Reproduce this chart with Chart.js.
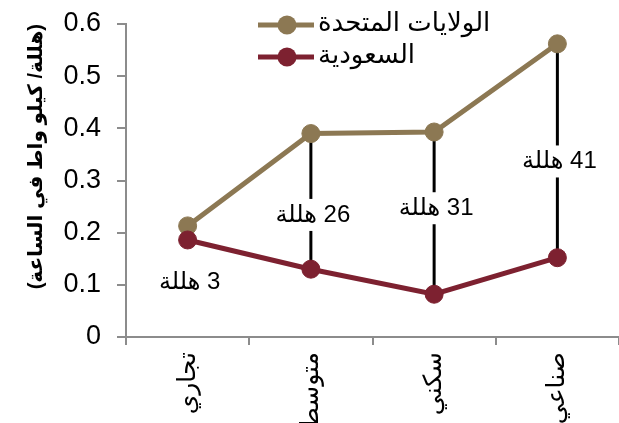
<!DOCTYPE html>
<html lang="ar">
<head>
<meta charset="utf-8">
<script src="https://cdn.jsdelivr.net/npm/chart.js@4.4.0/dist/chart.umd.min.js"></script>
<style>
  body { margin: 0; background: #fff; }
  #wrap { width: 619px; height: 423px; }
  canvas { direction: rtl; }
</style>
</head>
<body>
<div id="wrap"><canvas id="tariffChart"></canvas></div>
<script>
// tariff per sector, riyal per kWh
var sectors = ['تجاري', 'متوسط', 'سكني', 'صناعي'];
var usPrices = [0.213, 0.39, 0.393, 0.562];
var saudiPrices = [0.186, 0.13, 0.082, 0.152];
var yTicks = [0, 0.1, 0.2, 0.3, 0.4, 0.5, 0.6];
var usName = 'الولايات المتحدة';
var saudiName = 'السعودية';
var unitWord = 'هللة';
var yTitle = '(هللة/ كيلو واط في الساعة)';

var usColor = '#8c7853';
var saudiColor = '#7d2130';
var axisColor = '#8c8c8c';
var fontFamily = "'Liberation Sans', 'DejaVu Sans', Arial, sans-serif";

// black connector between the two points with the gap in halala
var gapLines = {
  id: 'gapLines',
  beforeDatasetsDraw(chart) {
    var ctx = chart.ctx;
    var us = chart.getDatasetMeta(0).data;
    var sa = chart.getDatasetMeta(1).data;
    ctx.save();
    ctx.strokeStyle = '#000';
    ctx.lineWidth = 3;
    for (var i = 0; i < sectors.length; i++) {
      if (usPrices[i] - saudiPrices[i] < 0.05) continue;
      ctx.beginPath();
      ctx.moveTo(us[i].x, us[i].y);
      ctx.lineTo(sa[i].x, sa[i].y);
      ctx.stroke();
    }
    ctx.restore();
  },
  afterDatasetsDraw(chart, args, opts) {
    var ctx = chart.ctx;
    var us = chart.getDatasetMeta(0).data;
    var sa = chart.getDatasetMeta(1).data;
    ctx.save();
    ctx.font = '24px ' + fontFamily;
    ctx.textAlign = 'center';
    ctx.textBaseline = 'middle';
    for (var i = 0; i < sectors.length; i++) {
      var diff = Math.round((usPrices[i] - saudiPrices[i]) * 100);
      var text = diff + ' ' + unitWord;
      var x = sa[i].x, y;
      if (usPrices[i] - saudiPrices[i] < 0.05) {
        y = sa[i].y + 42;
      } else {
        y = us[i].y + (sa[i].y - us[i].y) * opts.at[i];
        var w = ctx.measureText(text).width + 4;
        ctx.fillStyle = '#fff';
        ctx.fillRect(x - w / 2, y - 16, w, 32);
      }
      ctx.fillStyle = '#000';
      ctx.fillText(text, x + 2, y);
    }
    ctx.restore();
  }
};

// legend sits inside the plot, marker on the left of the name
var innerLegend = {
  id: 'innerLegend',
  afterDraw(chart) {
    var ctx = chart.ctx;
    var rows = [[usName, usColor, 25], [saudiName, saudiColor, 57]];
    ctx.save();
    ctx.font = '26px ' + fontFamily;
    ctx.textAlign = 'left';
    ctx.textBaseline = 'middle';
    rows.forEach(function (r) {
      ctx.strokeStyle = r[1];
      ctx.lineWidth = 5;
      ctx.beginPath();
      ctx.moveTo(258, r[2]);
      ctx.lineTo(314, r[2]);
      ctx.stroke();
      ctx.fillStyle = r[1];
      ctx.beginPath();
      ctx.arc(287, r[2], 9.5, 0, Math.PI * 2);
      ctx.fill();
      ctx.fillStyle = '#000';
      ctx.fillText(r[0], 318, r[2] - 1);
    });
    ctx.restore();
  }
};

new Chart(document.getElementById('tariffChart'), {
  type: 'line',
  data: {
    labels: sectors,
    datasets: [
      {
        label: usName,
        data: usPrices,
        borderColor: usColor,
        backgroundColor: usColor,
        borderWidth: 5,
        pointRadius: 9,
        pointBorderWidth: 1,
        pointHoverRadius: 9,
        order: 1
      },
      {
        label: saudiName,
        data: saudiPrices,
        borderColor: saudiColor,
        backgroundColor: saudiColor,
        borderWidth: 5,
        pointRadius: 9,
        pointBorderWidth: 1,
        pointHoverRadius: 9,
        order: 0
      }
    ]
  },
  options: {
    responsive: true,
    maintainAspectRatio: false,
    animation: false,
    layout: { autoPadding: false, padding: { top: 24, right: 0, bottom: 0, left: 0 } },
    plugins: {
      legend: { display: false },
      tooltip: { enabled: false },
      gapLines: { at: [0, 0.6, 0.47, 0.55] }
    },
    scales: {
      x: {
        offset: true,
        grid: { offset: true, drawOnChartArea: false, color: axisColor, lineWidth: 2, tickLength: 8 },
        border: { color: axisColor, width: 2 },
        ticks: {
          color: '#000',
          font: { family: fontFamily, size: 25 },
          minRotation: 90,
          maxRotation: 90,
          padding: 7
        },
        afterFit(scale) {
          scale.height = 86;
          scale.paddingLeft = 0;
          scale.paddingRight = 0;
        }
      },
      y: {
        min: 0,
        max: 0.6,
        afterBuildTicks(scale) { scale.ticks = yTicks.map(function (v) { return { value: v }; }); },
        grid: { drawOnChartArea: false, color: axisColor, lineWidth: 2, tickLength: 9 },
        border: { color: axisColor, width: 2 },
        ticks: {
          color: '#000',
          font: { family: fontFamily, size: 27 },
          padding: 16,
          callback: function (v) { return v === 0 ? '0' : v.toFixed(1); }
        },
        title: {
          display: true,
          text: yTitle,
          align: 'end',
          color: '#000',
          font: { family: fontFamily, size: 20, weight: 'bold' },
          padding: { top: 24, bottom: 0 }
        },
        afterFit(scale) {
          scale.width = 126;
          scale.paddingTop = 0;
          scale.paddingBottom = 0;
        }
      }
    }
  },
  plugins: [gapLines, innerLegend]
});
</script>
</body>
</html>
